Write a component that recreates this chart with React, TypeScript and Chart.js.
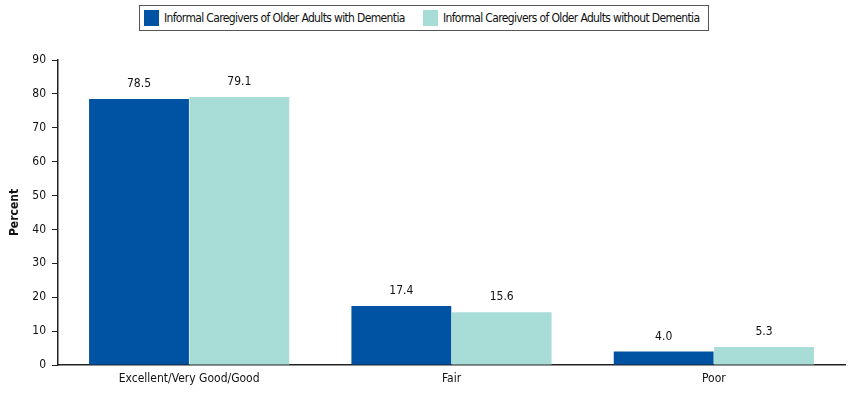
import React, { useEffect, useRef } from "react";
import { Chart, registerables } from "chart.js";

Chart.register(...registerables);

const categories = ["Excellent/Very Good/Good", "Fair", "Poor"];
const withDementia = [78.5, 17.4, 4.0];
const withoutDementia = [79.1, 15.6, 5.3];
const seriesNames = [
  "Informal Caregivers of Older Adults with Dementia",
  "Informal Caregivers of Older Adults without Dementia",
];
const colors = ["#0052A2", "#A8DCD7"];
const FONT = "'DejaVu Sans Condensed', 'Liberation Sans Narrow', sans-serif";

const valueLabels = {
  id: "valueLabels",
  afterDatasetsDraw(chart: any) {
    const ctx = chart.ctx;
    ctx.save();
    ctx.font = `12px ${FONT}`;
    ctx.fillStyle = "#111";
    ctx.textAlign = "center";
    ctx.textBaseline = "bottom";
    chart.data.datasets.forEach((ds: any, i: number) => {
      const meta = chart.getDatasetMeta(i);
      meta.data.forEach((el: any, j: number) => {
        ctx.fillText(Number(ds.data[j]).toFixed(1), el.x, el.y - 9);
      });
    });
    ctx.restore();
  },
};

export default function App() {
  const ref = useRef<HTMLCanvasElement>(null);
  useEffect(() => {
    document.body.style.margin = "0";
    const chart = new Chart(ref.current!, {
      type: "bar",
      data: {
        labels: categories,
        datasets: [
          { label: seriesNames[0], data: withDementia, backgroundColor: colors[0], borderWidth: 0 },
          { label: seriesNames[1], data: withoutDementia, backgroundColor: colors[1], borderWidth: 0 },
        ],
      },
      options: {
        animation: false,
        responsive: false,
        devicePixelRatio: 1,
        layout: { padding: { top: 60, right: 5, left: 4, bottom: 4 } },
        plugins: { legend: { display: false }, tooltip: { enabled: false } },
        datasets: { bar: { categoryPercentage: 0.765, barPercentage: 0.995 } },
        scales: {
          x: {
            grid: { display: false, drawTicks: false },
            border: { display: true, color: "#222", width: 1.5 },
            ticks: { color: "#111", font: { family: FONT, size: 12 }, padding: 7 },
            afterFit: (s: any) => { s.height = 24; },
          },
          y: {
            min: 0,
            max: 90,
            ticks: { stepSize: 10, color: "#111", font: { family: FONT, size: 12 }, padding: 6 },
            grid: { drawOnChartArea: false, drawTicks: true, tickLength: 6, color: "#222" },
            border: { display: true, color: "#222", width: 1.5 },
            title: { display: true, text: "Percent", color: "#111", font: { family: FONT, size: 12, weight: "bold" }, padding: 4 },
            afterFit: (s: any) => { s.width = 54; },
          },
        },
      },
      plugins: [valueLabels],
    });
    return () => chart.destroy();
  }, []);

  return (
    <div style={{ position: "relative", width: 850, height: 393 }}>
      <canvas ref={ref} width={850} height={393} style={{ position: "absolute", left: 0, top: 0 }} />
      <div
        style={{
          position: "absolute",
          left: 139,
          top: 5,
          width: 570,
          height: 26,
          border: "1px solid #555",
          boxSizing: "border-box",
          fontFamily: FONT,
          fontSize: 12,
          letterSpacing: "-0.65px",
          color: "#111",
          background: "#fff",
          whiteSpace: "nowrap",
        }}
      >
        {seriesNames.map((n, i) => (
          <div
            key={n}
            style={{ position: "absolute", left: i === 0 ? 4 : 283, top: 4, display: "flex", alignItems: "center", height: 16 }}
          >
            <span style={{ display: "inline-block", width: 15, height: 16, background: colors[i], marginRight: 5 }} />
            <span>{n}</span>
          </div>
        ))}
      </div>
    </div>
  );
}
